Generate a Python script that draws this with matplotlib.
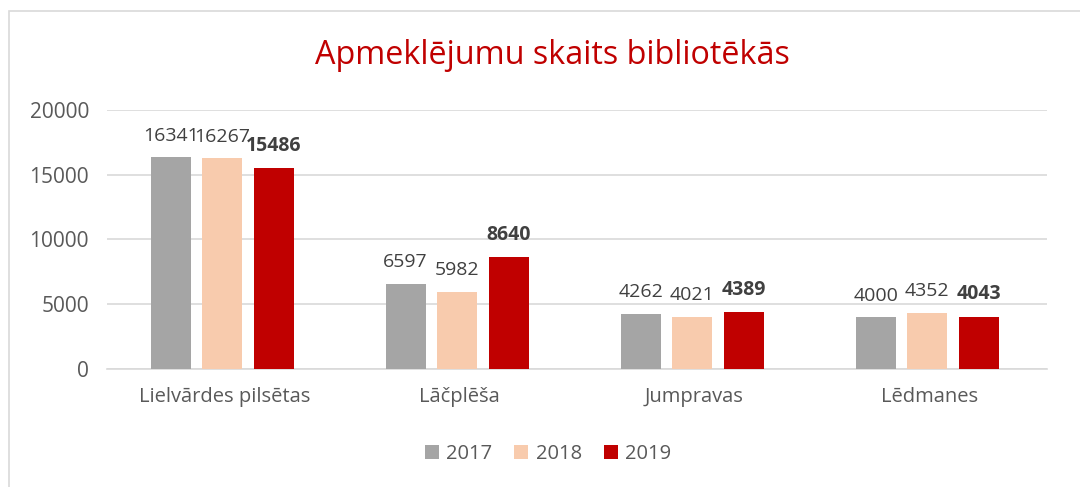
import matplotlib.pyplot as plt
import numpy as np
from matplotlib.patches import Rectangle

plt.rcParams['font.family'] = ['Open Sans', 'DejaVu Sans']

categories = ['Lielvārdes pilsētas', 'Lāčplēša', 'Jumpravas', 'Lēdmanes']
years = ['2017', '2018', '2019']
v2017 = [16341, 6597, 4262, 4000]
v2018 = [16267, 5982, 4021, 4352]
v2019 = [15486, 8640, 4389, 4043]
colors = ['#A5A5A5', '#F8CBAD', '#C00000']

fig = plt.figure(figsize=(10.8, 4.87), dpi=100)
fig.patches.append(Rectangle((9 / 1080, -0.1), 1.2, 1 - 11 / 487 + 0.1,
                             transform=fig.transFigure, fill=False,
                             edgecolor='#D9D9D9', linewidth=1.2))
ax = fig.add_axes([107 / 1080, 1 - 369 / 487, 940 / 1080, 259 / 487])

x = np.arange(len(categories))
step = 0.219
width = 0.17
for i, (vals, yr) in enumerate(zip([v2017, v2018, v2019], years)):
    bars = ax.bar(x + (i - 1) * step - 0.01, vals, width, color=colors[i], label=yr, zorder=3)
    for b, v in zip(bars, vals):
        ax.annotate(str(v), (b.get_x() + b.get_width() / 2, v), xytext=(0, 9),
                    textcoords='offset points', ha='center', va='bottom',
                    fontsize=14, color='#404040',
                    fontweight='bold' if yr == '2019' else 'normal')

ax.set_xlim(-0.5, 3.5)
ax.set_ylim(0, 20000)
ax.set_yticks([0, 5000, 10000, 15000, 20000])
ax.set_xticks(x)
ax.set_xticklabels(categories)
ax.tick_params(length=0, labelsize=15, labelcolor='#595959')
ax.tick_params(axis='x', labelsize=14.5, pad=13)
ax.tick_params(axis='y', pad=13)
ax.grid(axis='y', color='#D9D9D9', linewidth=1.2, zorder=0)
for s in ['top', 'left', 'right']:
    ax.spines[s].set_visible(False)
ax.spines['bottom'].set_color('#D9D9D9')
ax.spines['bottom'].set_linewidth(1.2)

fig.text(552 / 1080, 1 - 55 / 487, 'Apmeklējumu skaits bibliotēkās',
         ha='center', va='center', fontsize=23.3, color='#C00000')

leg = fig.legend(loc='center', bbox_to_anchor=(548 / 1080, 1 - 454 / 487), ncol=3,
                 frameon=False, fontsize=14.5, handlelength=0.7, handleheight=0.7,
                 columnspacing=1.1, handletextpad=0.35)
for t in leg.get_texts():
    t.set_color('#595959')

fig.savefig('out.png', dpi=100)
